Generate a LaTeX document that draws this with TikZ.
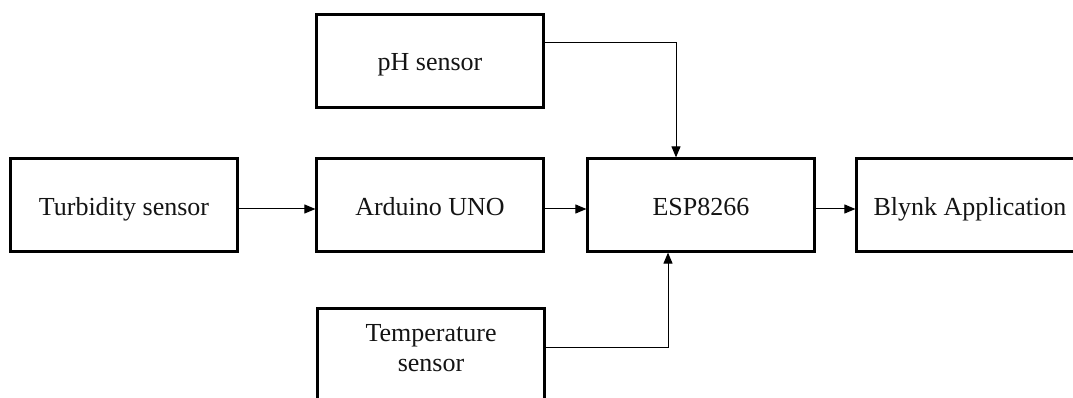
\documentclass[tikz,border=0pt]{standalone}
\usepackage{fontspec}
\setmainfont{Liberation Serif}
\usetikzlibrary{arrows.meta}
\begin{document}
\begin{tikzpicture}[x=1pt,y=-1pt,
  blk/.style={draw,line width=2.2pt,minimum width=227pt,minimum height=93pt,inner sep=0pt,
    text height=20pt,text depth=0pt,
    font=\fontsize{26}{30}\selectfont,text=black!92},
  lbl/.style={font=\fontsize{26}{30}\selectfont,text=black!92,align=center,inner sep=0pt},
  conn/.style={line width=1pt,-{Triangle[length=11pt,width=9pt]}}]
\useasboundingbox (0,0) rectangle (1073,398);
\node[blk] (turb) at (124,205) {Turbidity sensor};
\node[blk] (ph) at (430,61) {pH sensor};
\node[blk] (ard) at (430,205) {Arduino UNO};
\node[blk] (esp) at (701,205) {ESP8266};
\node[blk] (blynk) at (970,205) {Blynk Application};
\node[blk] (temp) at (431,355) {};
\node[lbl] (templbl) at (431,348) {Temperature\\sensor};
\coordinate (phout) at (544,43);
\coordinate (phin) at (676,43);
\coordinate (tout) at (546,347);
\coordinate (tin) at (668,347);
\draw[conn] (turb.east |- 0,209) -- (ard.west |- 0,209);
\draw[conn] (ard.east |- 0,209) -- (esp.west |- 0,209);
\draw[conn] (esp.east |- 0,209) -- (blynk.west |- 0,209);
\draw[conn] (phout) -- (phin) -- (phin |- esp.north);
\draw[conn] (tout) -- (tin) -- (tin |- esp.south);
\end{tikzpicture}
\end{document}
